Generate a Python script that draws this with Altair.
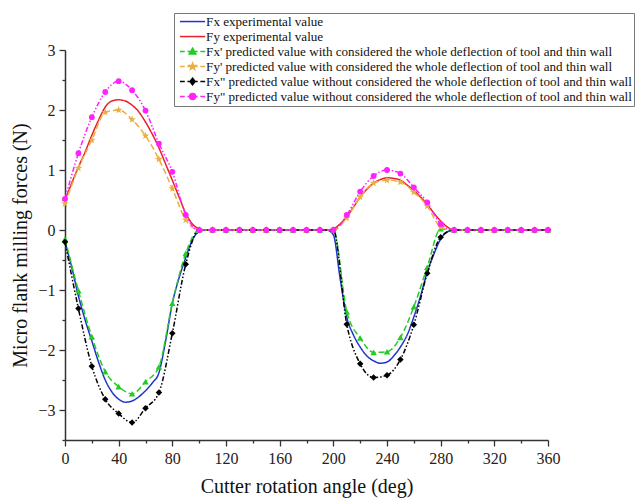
import math
import altair as alt
import pandas as pd

# ---------------- data ----------------
deg10 = list(range(0, 361, 10))
deg5 = list(range(0, 361, 5))

series_names = [
    "Fx experimental value",
    "Fy experimental value",
    "Fx' predicted value with considered the whole deflection of tool and thin wall",
    "Fy' predicted value with considered the whole deflection of tool and thin wall",
    "Fx\" predicted value without considered the whole deflection of tool and thin wall",
    "Fy\" predicted value without considered the whole deflection of tool and thin wall",
]

fx_exp = [-0.20, -0.62, -1.10, -1.50, -1.85, -2.20, -2.50, -2.70, -2.82, -2.87, -2.85, -2.78,
          -2.68, -2.55, -2.38, -1.85, -1.22, -0.80, -0.46, -0.16, -0.03, 0.0,
          0, 0, 0, 0, 0, 0, 0, 0, 0, 0, 0, 0, 0, 0, 0, 0, 0, 0,
          -0.08, -0.80, -1.45, -1.75, -1.95, -2.10, -2.18, -2.22, -2.20, -2.10, -1.95, -1.75,
          -1.45, -1.10, -0.70, -0.40, -0.15, -0.03, 0.0,
          0, 0, 0, 0, 0, 0, 0, 0, 0, 0, 0, 0, 0, 0]
fy_exp = [0.50, 0.78, 1.05, 1.30, 1.58, 1.83, 2.05, 2.15, 2.17, 2.15, 2.08, 1.97,
          1.80, 1.60, 1.37, 1.10, 0.83, 0.55, 0.28, 0.10, 0.02, 0.0,
          0, 0, 0, 0, 0, 0, 0, 0, 0, 0, 0, 0, 0, 0, 0, 0, 0, 0,
          0.02, 0.10, 0.22, 0.38, 0.55, 0.68, 0.78, 0.84, 0.87, 0.86, 0.83, 0.75,
          0.66, 0.55, 0.42, 0.28, 0.15, 0.05, 0.0,
          0, 0, 0, 0, 0, 0, 0, 0, 0, 0, 0, 0, 0, 0]

fx_with = [-0.15, -1.01, -1.78, -2.36, -2.61, -2.73, -2.53, -2.28, -1.22, -0.39,
           0, 0, 0, 0, 0, 0, 0, 0, 0, 0, 0,
           -1.36, -1.80, -2.04, -2.03, -1.79, -1.28, -0.62, 0.02,
           0, 0, 0, 0, 0, 0, 0, 0]
fy_with = [0.44, 1.03, 1.50, 1.96, 2.00, 1.84, 1.57, 1.18, 0.69, 0.17,
           0, 0, 0, 0, 0, 0, 0, 0, 0, 0, 0,
           0.20, 0.55, 0.78, 0.83, 0.80, 0.63, 0.40, 0.05,
           0, 0, 0, 0, 0, 0, 0, 0]
fx_without = [-0.20, -1.31, -2.27, -2.82, -3.06, -3.21, -2.97, -2.71, -1.72, -0.57,
              0, 0, 0, 0, 0, 0, 0, 0, 0, 0, 0,
              -1.57, -2.23, -2.46, -2.42, -2.16, -1.58, -0.72, -0.12,
              0, 0, 0, 0, 0, 0, 0, 0]
fy_without = [0.52, 1.28, 1.88, 2.30, 2.48, 2.33, 1.99, 1.44, 0.97, 0.25,
              0, 0, 0, 0, 0, 0, 0, 0, 0, 0, 0,
              0.25, 0.64, 0.90, 1.00, 0.94, 0.71, 0.46, 0.10,
              0, 0, 0, 0, 0, 0, 0, 0]

x_major = [0, 40, 80, 120, 160, 200, 240, 280, 320, 360]
x_minor = [20, 60, 100, 140, 180, 220, 260, 300, 340]
y_major = [-3, -2, -1, 0, 1, 2, 3]
y_minor = [-3.5, -2.5, -1.5, -0.5, 0.5, 1.5, 2.5]

# ---------------- styling ----------------
colors = ["#2233cc", "#e8202a", "#22cc22", "#e8b040", "#000000", "#ff22ff"]
dashes = [[1, 0], [1, 0], [6, 3], [6, 3], [5, 2, 1.5, 2, 1.5, 2], [5, 2, 1.5, 2, 1.5, 2]]
FONT = "Liberation Serif"


def star_path(r_out=1.15, r_in=0.48, cx=0.0):
    pts = []
    for i in range(10):
        r = r_out if i % 2 == 0 else r_in
        a = -math.pi / 2 + i * math.pi / 5
        pts.append((cx + r * math.cos(a), r * math.sin(a)))
    return "M" + "L".join(f"{px:.3f},{py:.3f}" for px, py in pts) + "Z"


tri = "M0,-1.1L1.1,0.8L-1.1,0.8Z"
dia = "M0,-1.1L0.85,0L0,1.1L-0.85,0Z"
circ = "M-1,0A1,1 0 1,0 1,0A1,1 0 1,0 -1,0Z"
solid_line = "M-4.2,0H4.2"
dash_line = "M-4.2,0H-2.6M-1.7,0H1.7M2.6,0H4.2"
legend_paths = [solid_line, solid_line,
                dash_line + tri, dash_line + star_path(),
                dash_line + dia, dash_line + circ]

# ---------------- tables ----------------
exp_df = pd.concat([
    pd.DataFrame({"deg": deg5, "val": fx_exp, "series": series_names[0]}),
    pd.DataFrame({"deg": deg5, "val": fy_exp, "series": series_names[1]}),
])
pred_df = pd.concat([
    pd.DataFrame({"deg": deg10, "val": fx_with, "series": series_names[2]}),
    pd.DataFrame({"deg": deg10, "val": fy_with, "series": series_names[3]}),
    pd.DataFrame({"deg": deg10, "val": fx_without, "series": series_names[4]}),
    pd.DataFrame({"deg": deg10, "val": fy_without, "series": series_names[5]}),
])
legend_df = pd.DataFrame({"series": series_names})

x_scale = alt.Scale(domain=[0, 360], nice=False, zero=False)
y_scale = alt.Scale(domain=[-3.5, 3], nice=False, zero=False)

main_x_axis = alt.Axis(values=x_major, orient="bottom", title="Cutter rotation angle (deg)",
                       tickSize=6, labelFontSize=16, labelPadding=4, titleFontSize=20,
                       titlePadding=10, labelFont=FONT, titleFont=FONT, labelFlush=False,
                       titleFontWeight="normal", grid=False)
main_y_axis = alt.Axis(values=y_major, orient="left", title="Micro flank milling forces (N)",
                       tickSize=6, labelFontSize=16, labelPadding=4, titleFontSize=20,
                       titlePadding=7, labelFont=FONT, titleFont=FONT, labelFlush=False,
                       titleFontWeight="normal", grid=False)
minor_x_axis = alt.Axis(values=x_minor, orient="bottom", title=None, labels=False,
                        domain=False, tickSize=3, grid=False)
minor_y_axis = alt.Axis(values=y_minor, orient="left", title=None, labels=False,
                        domain=False, tickSize=3, grid=False)

layers = []

# axis carrier layers (invisible)
layers.append(
    alt.Chart(exp_df).mark_line(opacity=0).encode(
        x=alt.X("deg:Q", scale=x_scale, axis=main_x_axis),
        y=alt.Y("val:Q", scale=y_scale, axis=main_y_axis),
        detail="series:N",
    )
)
layers.append(
    alt.Chart(exp_df).mark_line(opacity=0).encode(
        x=alt.X("deg:Q", scale=x_scale, axis=minor_x_axis),
        y=alt.Y("val:Q", scale=y_scale, axis=minor_y_axis),
        detail="series:N",
    )
)

point_shapes = {2: ("triangle-up", 42), 3: (star_path(), 48),
                4: ("diamond", 42), 5: ("circle", 34)}

for i, name in enumerate(series_names):
    src = exp_df if i < 2 else pred_df
    base = alt.Chart(src).transform_filter(alt.datum.series == name)
    layers.append(
        base.mark_line(color=colors[i], strokeWidth=1.5, strokeDash=dashes[i],
                       interpolate="monotone").encode(
            x=alt.X("deg:Q", scale=x_scale, axis=None),
            y=alt.Y("val:Q", scale=y_scale, axis=None),
        )
    )
    if i >= 2:
        shp, sz = point_shapes[i]
        layers.append(
            base.mark_point(shape=shp, size=sz, filled=True, color=colors[i], opacity=1).encode(
                x=alt.X("deg:Q", scale=x_scale, axis=None),
                y=alt.Y("val:Q", scale=y_scale, axis=None),
            )
        )

# legend carrier layer (its points sit outside the clipped plot area)
legend = alt.Legend(
    title=None, orient="none", legendX=109, legendY=-37,
    labelFont=FONT, labelFontSize=13.1, labelColor="#111", labelLimit=0,
    symbolSize=36, symbolOffset=10, labelOffset=7, symbolStrokeWidth=1.5,
    symbolOpacity=1, rowPadding=1, padding=2,
    strokeColor="#777", fillColor="white",
)
layers.append(
    alt.Chart(legend_df).transform_calculate(deg="-100", val="0").mark_point(
        clip=True, strokeWidth=1.5, opacity=1
    ).encode(
        x=alt.X("deg:Q", scale=x_scale, axis=None),
        y=alt.Y("val:Q", scale=y_scale, axis=None),
        fill=alt.Fill("series:N", scale=alt.Scale(domain=series_names, range=colors),
                      legend=legend, sort=series_names),
        stroke=alt.Stroke("series:N", scale=alt.Scale(domain=series_names, range=colors),
                          legend=legend, sort=series_names),
        shape=alt.Shape("series:N", scale=alt.Scale(domain=series_names, range=legend_paths),
                        legend=legend, sort=series_names),
    )
)

chart = alt.layer(*layers).resolve_axis(x="independent", y="independent").properties(
    width=483, height=390,
    padding={"left": 65, "top": 50, "right": 92, "bottom": 63},
    autosize="none",
    background="white",
).configure_view(stroke=None).configure_axis(
    domainColor="#333", domainWidth=1.5, tickColor="#333", tickWidth=1.3,
    labelColor="#222", titleColor="#111",
)

chart.save("out.html", embed_options={"renderer": "svg", "actions": False})
